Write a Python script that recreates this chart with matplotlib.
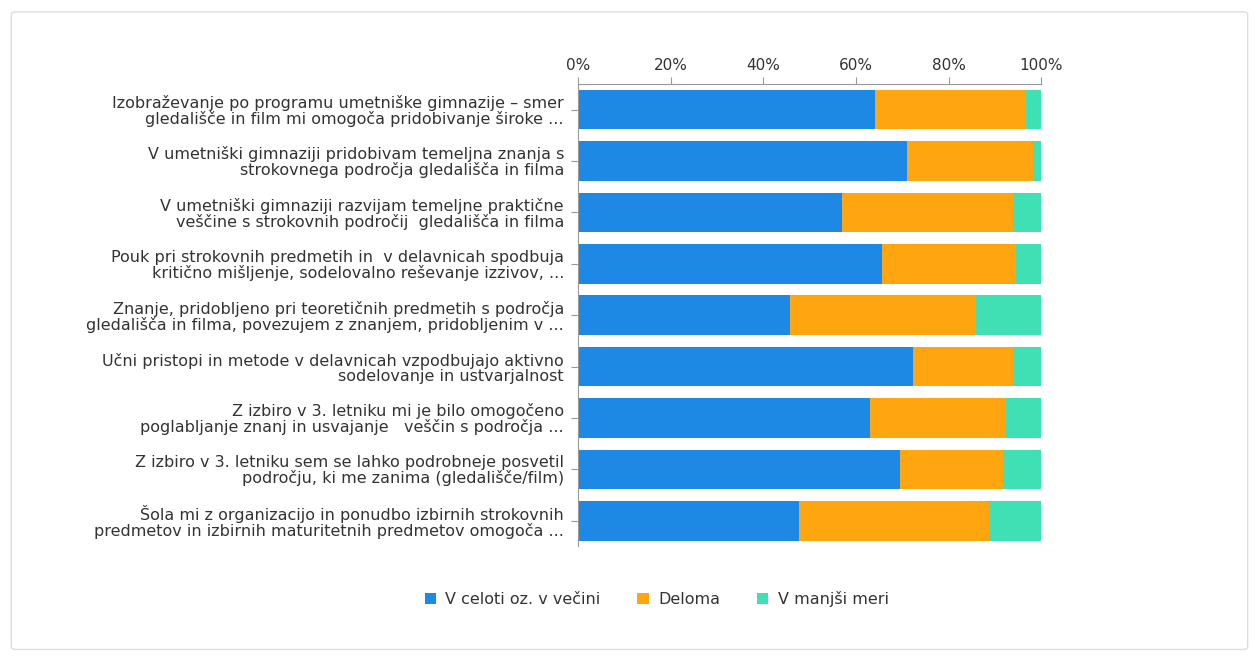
import matplotlib.pyplot as plt
from matplotlib.patches import FancyBboxPatch
from matplotlib.ticker import FuncFormatter
import numpy as np

# statements (y categories, top to bottom)
labels = [
    "Izobraževanje po programu umetniške gimnazije – smer\ngledališče in film mi omogoča pridobivanje široke ...",
    "V umetniški gimnaziji pridobivam temeljna znanja s\nstrokovnega področja gledališča in filma",
    "V umetniški gimnaziji razvijam temeljne praktične\nveščine s strokovnih področij  gledališča in filma",
    "Pouk pri strokovnih predmetih in  v delavnicah spodbuja\nkritično mišljenje, sodelovalno reševanje izzivov, ...",
    "Znanje, pridobljeno pri teoretičnih predmetih s področja\ngledališča in filma, povezujem z znanjem, pridobljenim v ...",
    "Učni pristopi in metode v delavnicah vzpodbujajo aktivno\nsodelovanje in ustvarjalnost",
    "Z izbiro v 3. letniku mi je bilo omogočeno\npoglabljanje znanj in usvajanje   veščin s področja ...",
    "Z izbiro v 3. letniku sem se lahko podrobneje posvetil\npodročju, ki me zanima (gledališče/film)",
    "Šola mi z organizacijo in ponudbo izbirnih strokovnih\npredmetov in izbirnih maturitetnih predmetov omogoča ...",
]

# shares in %
celoti = [64.2, 71.0, 57.1, 65.7, 45.7, 72.3, 63.0, 69.5, 47.8]
deloma = [32.6, 27.3, 36.9, 28.9, 40.2, 21.7, 29.1, 22.2, 41.0]
manjsi = [3.2, 1.7, 6.0, 5.4, 14.1, 6.0, 7.9, 8.3, 11.2]

series = ["V celoti oz. v večini", "Deloma", "V manjši meri"]
colors = ["#1E88E5", "#FFA50F", "#3FE0B4"]

fig = plt.figure(figsize=(12.59, 6.6), dpi=100)
ax = fig.add_axes([0.459, 0.172, 0.368, 0.701])

y = np.arange(len(labels))
left = np.zeros(len(labels))
for vals, name, c in zip([celoti, deloma, manjsi], series, colors):
    ax.barh(y, vals, left=left, height=0.77, color=c, label=name)
    left = left + np.array(vals)

ax.set_xlim(0, 100)
ax.set_ylim(len(labels) - 0.5, -0.5)
ax.set_yticks(y)
ax.set_yticklabels(labels, fontsize=11.5, color="#333333", linespacing=1.0)
ax.set_xticks([0, 20, 40, 60, 80, 100])
ax.xaxis.set_major_formatter(FuncFormatter(lambda v, p: f"{v:.0f}%"))
ax.xaxis.tick_top()
ax.tick_params(axis="x", labelsize=11, labelcolor="#333333", color="#999999", length=5, pad=3)
ax.tick_params(axis="y", color="#999999", length=5, pad=5)
for s in ["right", "bottom"]:
    ax.spines[s].set_visible(False)
for s in ["top", "left"]:
    ax.spines[s].set_color("#999999")

ax.legend(loc="upper center", bbox_to_anchor=(0.17, -0.065), ncol=3, frameon=False,
          fontsize=11.5, handlelength=0.7, handleheight=0.7, handletextpad=0.6,
          columnspacing=2.3, labelcolor="#333333")

border = FancyBboxPatch((0.009, 0.016), 0.982, 0.966, boxstyle="round,pad=0,rounding_size=0.004",
                        transform=fig.transFigure, fill=False, edgecolor="#dddddd", linewidth=1)
fig.patches.append(border)

fig.savefig("out.png", dpi=100)
